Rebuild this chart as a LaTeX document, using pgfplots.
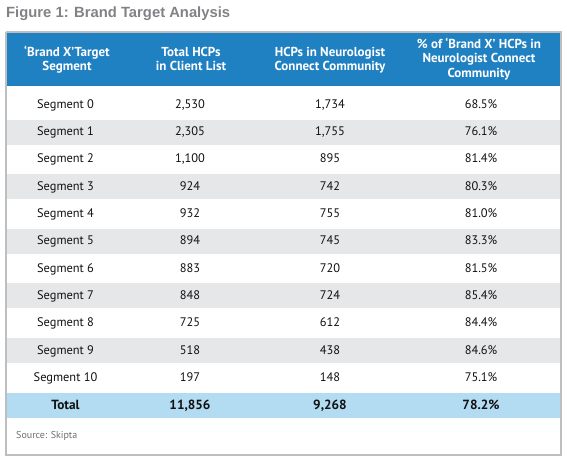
\documentclass[border=0pt]{standalone}
\usepackage{pgfplots}
\pgfplotsset{compat=1.18}
\usepackage{fontspec}
\setmainfont{PT Sans}
\newfontfamily\titlefont{Liberation Sans}
\definecolor{hdrblue}{HTML}{1F80C2}
\definecolor{totblue}{HTML}{B3DCF2}
\definecolor{stripe}{HTML}{E6E7E8}
\definecolor{framegray}{HTML}{BCBEC0}
\definecolor{titlegray}{HTML}{808285}
\definecolor{srcgray}{HTML}{6D6E71}
\definecolor{txt}{HTML}{111111}
\begin{document}
\begin{tikzpicture}
\begin{axis}[
  scale only axis, width=567pt, height=466pt,
  xmin=0, xmax=567, ymin=0, ymax=466, y dir=reverse,
  hide axis, clip=false,
  lbl/.style={draw=none, mark=none, nodes near coords, point meta=explicit symbolic,
    every node near coord/.append style={anchor=base, inner sep=0pt, #1}},
]
% backgrounds
\addplot[fill=hdrblue, draw=none] coordinates {(7,33) (559.5,33) (559.5,86) (7,86)};
\addplot[fill=stripe, draw=none] coordinates {(7,120) (559.5,120) (559.5,144.5) (7,144.5)};
\addplot[fill=stripe, draw=none] coordinates {(7,174) (559.5,174) (559.5,198.5) (7,198.5)};
\addplot[fill=stripe, draw=none] coordinates {(7,229) (559.5,229) (559.5,253.5) (7,253.5)};
\addplot[fill=stripe, draw=none] coordinates {(7,283) (559.5,283) (559.5,307.5) (7,307.5)};
\addplot[fill=stripe, draw=none] coordinates {(7,338) (559.5,338) (559.5,363) (7,363)};
\addplot[fill=totblue, draw=none] coordinates {(7,393) (559.5,393) (559.5,417.5) (7,417.5)};
\addplot[draw=framegray, line width=2pt, mark=none] coordinates {(6,32) (560.5,32) (560.5,455) (6,455) (6,32)};
% header
\addplot[lbl={font=\fontsize{13}{14}\selectfont\bfseries, text=white}] coordinates {
 (67,56.6) [‘Brand X’Target] (67,70.9) [Segment]
 (191,56.6) [Total HCPs] (191,70.9) [in Client List]
 (330,56.6) [HCPs in Neurologist] (330,70.9) [Connect Community]
 (479,48.5) [\% of ‘Brand X’ HCPs in] (479,62.8) [Neurologist Connect] (479,77.1) [Community]
};
% body: segment names
\addplot[lbl={font=\fontsize{12.4}{14}\selectfont, text=txt}] coordinates {
 (65.5,108.3) [Segment 0] (65.5,135.6) [Segment 1] (65.5,162.9) [Segment 2]
 (65.5,190.2) [Segment 3] (65.5,217.5) [Segment 4] (65.5,244.8) [Segment 5]
 (65.5,272.1) [Segment 6] (65.5,299.4) [Segment 7] (65.5,326.7) [Segment 8]
 (65.5,354.0) [Segment 9] (65.5,381.3) [Segment 10]
};
% total HCPs in client list
\addplot[lbl={font=\fontsize{12.4}{14}\selectfont, text=txt}] coordinates {
 (190,108.3) [{2,530}] (190,135.6) [{2,305}] (190,162.9) [{1,100}]
 (190,190.2) [924] (190,217.5) [932] (190,244.8) [894]
 (190,272.1) [883] (190,299.4) [848] (190,326.7) [725]
 (190,354.0) [518] (190,381.3) [197]
};
% HCPs in community
\addplot[lbl={font=\fontsize{12.4}{14}\selectfont, text=txt}] coordinates {
 (330,108.3) [{1,734}] (330,135.6) [{1,755}] (330,162.9) [895]
 (330,190.2) [742] (330,217.5) [755] (330,244.8) [745]
 (330,272.1) [720] (330,299.4) [724] (330,326.7) [612]
 (330,354.0) [438] (330,381.3) [148]
};
% percentage
\addplot[lbl={font=\fontsize{12.4}{14}\selectfont, text=txt}] coordinates {
 (481,108.3) [68.5\%] (481,135.6) [76.1\%] (481,162.9) [81.4\%]
 (481,190.2) [80.3\%] (481,217.5) [81.0\%] (481,244.8) [83.3\%]
 (481,272.1) [81.5\%] (481,299.4) [85.4\%] (481,326.7) [84.4\%]
 (481,354.0) [84.6\%] (481,381.3) [75.1\%]
};
% total row
\addplot[lbl={font=\fontsize{13.3}{14}\selectfont\bfseries, text=txt}] coordinates {
 (65.5,409.5) [Total] (190,409.5) [{11,856}] (330,409.5) [{9,268}] (481,409.5) [78.2\%]
};
\node[anchor=base west, inner sep=0pt, font=\titlefont\fontsize{14.8}{16}\selectfont\bfseries, text=titlegray] at (axis cs:6,17) {Figure 1: Brand Target Analysis};
\node[anchor=base west, inner sep=0pt, font=\fontsize{10}{11}\selectfont, text=srcgray] at (axis cs:16,438.3) {Source: Skipta};
\path (axis cs:0,0) rectangle (axis cs:567,466);
\end{axis}
\end{tikzpicture}
\end{document}
